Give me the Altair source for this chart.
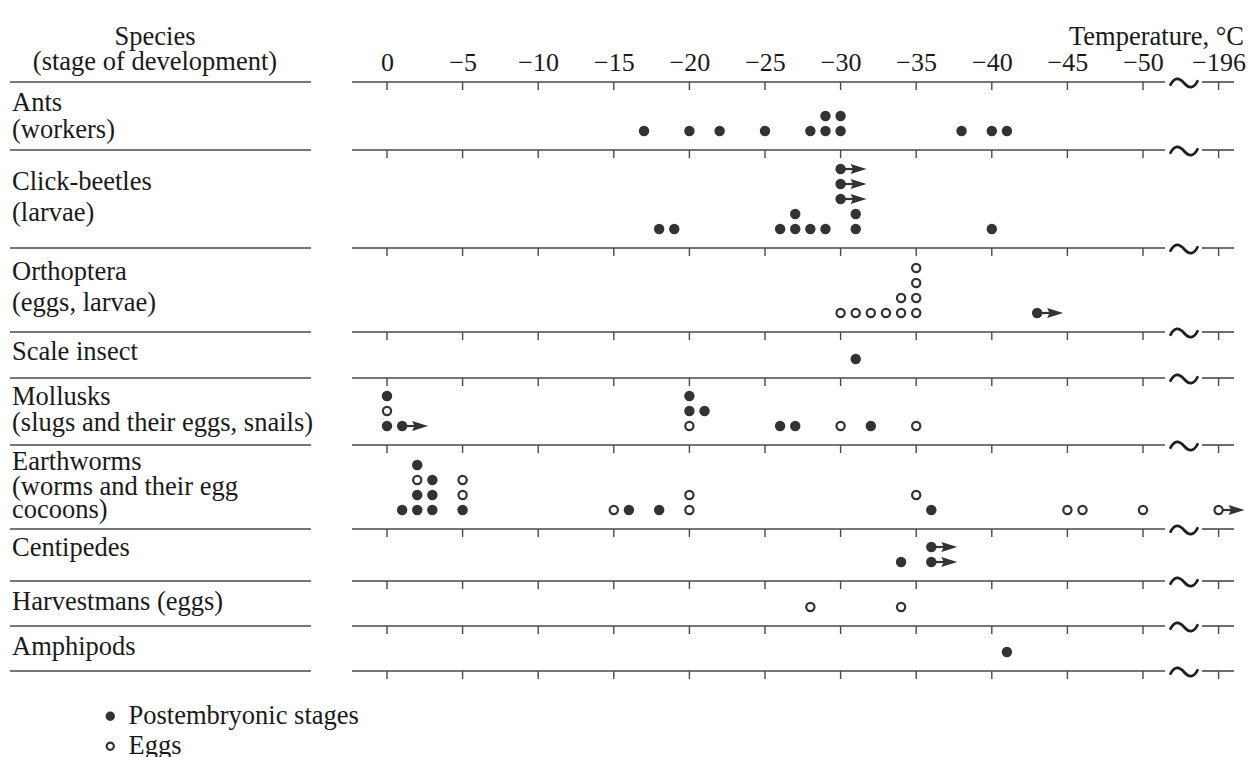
import altair as alt
import pandas as pd

# ---------------- data ----------------
species_lines = [
    ["Ants", "(workers)"],
    ["Click-beetles", "(larvae)"],
    ["Orthoptera", "(eggs, larvae)"],
    ["Scale insect"],
    ["Mollusks", "(slugs and their eggs, snails)"],
    ["Earthworms", "(worms and their egg", "cocoons)"],
    ["Centipedes"],
    ["Harvestmans (eggs)"],
    ["Amphipods"],
]

# each record: (temperature °C, stack level, stage)  P = postembryonic, E = eggs
ants = [(-17, 0, "P"), (-20, 0, "P"), (-22, 0, "P"), (-25, 0, "P"), (-28, 0, "P"),
        (-29, 0, "P"), (-30, 0, "P"), (-38, 0, "P"), (-40, 0, "P"), (-41, 0, "P"),
        (-29, 1, "P"), (-30, 1, "P")]
click_beetles = [(-18, 0, "P"), (-19, 0, "P"), (-26, 0, "P"), (-27, 0, "P"), (-28, 0, "P"),
                 (-29, 0, "P"), (-31, 0, "P"), (-40, 0, "P"), (-27, 1, "P"), (-31, 1, "P"),
                 (-30, 2, "P"), (-30, 3, "P"), (-30, 4, "P")]
orthoptera = [(-30, 0, "E"), (-31, 0, "E"), (-32, 0, "E"), (-33, 0, "E"), (-34, 0, "E"),
              (-35, 0, "E"), (-34, 1, "E"), (-35, 1, "E"), (-35, 2, "E"), (-35, 3, "E"),
              (-43, 0, "P")]
scale_insect = [(-31, 0, "P")]
mollusks = [(0, 0, "P"), (0, 1, "E"), (0, 2, "P"), (-1, 0, "P"), (-20, 0, "E"),
            (-20, 1, "P"), (-20, 2, "P"), (-21, 1, "P"), (-26, 0, "P"), (-27, 0, "P"),
            (-30, 0, "E"), (-32, 0, "P"), (-35, 0, "E")]
earthworms = [(-1, 0, "P"), (-2, 0, "P"), (-2, 1, "P"), (-2, 2, "E"), (-2, 3, "P"),
              (-3, 0, "P"), (-3, 1, "P"), (-3, 2, "P"), (-5, 0, "P"), (-5, 1, "E"),
              (-5, 2, "E"), (-15, 0, "E"), (-16, 0, "P"), (-18, 0, "P"), (-20, 0, "E"),
              (-20, 1, "E"), (-35, 1, "E"), (-36, 0, "P"), (-45, 0, "E"), (-46, 0, "E"),
              (-50, 0, "E"), (-196, 0, "E")]
centipedes = [(-34, 0, "P"), (-36, 0, "P"), (-36, 1, "P")]
harvestmans = [(-28, 0, "E"), (-34, 0, "E")]
amphipods = [(-41, 0, "P")]
row_points = [ants, click_beetles, orthoptera, scale_insect, mollusks,
              earthworms, centipedes, harvestmans, amphipods]

# values that lie beyond the measured limit (row index, temperature, level)
arrows = [(1, -30, 2), (1, -30, 3), (1, -30, 4), (2, -43, 0), (4, -1, 0),
          (5, -196, 0), (6, -36, 0), (6, -36, 1)]

tick_temps = [0, -5, -10, -15, -20, -25, -30, -35, -40, -45, -50, -196]
stage_names = {"P": "Postembryonic stages", "E": "Eggs"}

# ---------------- layout ----------------
PX_PER_DEG = 15.12
ZERO_PX = 387          # page x of 0 °C
LEFT_PX, TOP_PX = 10, 82
W, H = 1236, 589
BREAK_POS = 55         # -196 is drawn after the axis break
row_heights = [68, 98, 84, 46, 67, 84, 52, 45, 45]
label_offsets = [[21, 48], [32, 63], [24, 55], [20], [19, 45], [17, 42, 65], [19], [21], [21]]
BOTTOM_GAP, LEVEL_STEP = 19, 15
FONT = "Liberation Serif"
FS = 26
FS_TXT = 26.5
INK = "#333333"
LINE = "#4a4a4a"
TXT = "#1a1a1a"


def pos_px(px):
    return (px - ZERO_PX) / PX_PER_DEG


def pos_t(t):
    return BREAK_POS if t < -100 else -t


def yy(py):
    return py - TOP_PX


bounds = [0]
for h in row_heights:
    bounds.append(bounds[-1] + h)


def dot_y(row, level):
    return bounds[row + 1] - BOTTOM_GAP - LEVEL_STEP * level


# ---------------- frames ----------------
pts = pd.DataFrame([
    {"pos": pos_t(t), "y": dot_y(r, lv), "stage": stage_names[s], "temp": t}
    for r, recs in enumerate(row_points) for (t, lv, s) in recs
])
arr = pd.DataFrame([{"pos": pos_t(t), "y": dot_y(r, lv)} for (r, t, lv) in arrows])

tick_pos = [pos_t(t) for t in tick_temps]
tick_lab = ["0" if t == 0 else "\u2212" + str(-t) for t in tick_temps]
label_expr = " : ".join(
    [f"datum.value == {p} ? '{l}'" for p, l in zip(tick_pos, tick_lab)]) + " : ''"

left_lines = pd.DataFrame({"pos": pos_px(10), "pos2": pos_px(311), "y": bounds})
right_lines = pd.DataFrame(
    [{"pos": pos_px(352), "pos2": pos_px(1165), "y": b} for b in bounds]
    + [{"pos": pos_px(1202), "pos2": pos_px(1234), "y": b} for b in bounds])
ticks = pd.DataFrame([{"pos": p, "y": b} for b in bounds for p in tick_pos])
tildes = pd.DataFrame({"pos": pos_px(1184), "y": bounds})

labels = pd.DataFrame([
    {"pos": pos_px(12), "y": bounds[r] + off, "text": txt}
    for r, (lines, offs) in enumerate(zip(species_lines, label_offsets))
    for txt, off in zip(lines, offs)
])
header_c = pd.DataFrame({"pos": pos_px(155), "y": [yy(37), yy(62)],
                         "text": ["Species", "(stage of development)"]})
header_r = pd.DataFrame({"pos": [pos_px(1244)], "y": [yy(37)], "text": ["Temperature, \u00b0C"]})

# ---------------- encodings ----------------
xscale = alt.Scale(domain=[pos_px(LEFT_PX), pos_px(LEFT_PX + W)], nice=False, zero=False)
xaxis = alt.Axis(orient="top", values=tick_pos, labelExpr=label_expr, domain=False,
                 ticks=False, tickSize=0, grid=False, title=None, labelFont=FONT,
                 labelFontSize=FS, labelColor=TXT, labelPadding=20, labelBaseline="middle",
                 labelFlush=False, labelOverlap=False, labelAngle=0)
X = alt.X("pos:Q", scale=xscale, axis=xaxis)
Y = alt.Y("y:Q", scale=alt.Scale(domain=[0, H], reverse=True, nice=False, zero=False), axis=None)
X2 = alt.X2("pos2:Q")

l_left = alt.Chart(left_lines).mark_rule(color=LINE, strokeWidth=1.6).encode(x=X, x2=X2, y=Y)
l_right = alt.Chart(right_lines).mark_rule(color=LINE, strokeWidth=1.6).encode(x=X, x2=X2, y=Y)
l_ticks = alt.Chart(ticks).mark_rule(color=LINE, strokeWidth=1.4, y2Offset=8).encode(
    x=X, y=Y, y2=alt.Y2("y:Q"))
l_tilde = alt.Chart(tildes).mark_point(
    shape="M-1,0.2C-0.7,-0.45 -0.35,-0.4 0,0C0.35,0.4 0.7,0.45 1,-0.2",
    filled=False, size=780, strokeWidth=2.7, color="#1e1e1e", opacity=1, yOffset=1
).encode(x=X, y=Y)

l_shaft = alt.Chart(arr).mark_rule(color=INK, strokeWidth=2.2, x2Offset=14).encode(
    x=X, x2=alt.X2("pos:Q"), y=Y)
l_head = alt.Chart(arr).mark_point(
    shape="M-1,-0.62L1,0L-1,0.62L-0.7,0Z", filled=True, size=256, color=INK,
    opacity=1, xOffset=18
).encode(x=X, y=Y)

l_pts = alt.Chart(pts).mark_point(
    shape="circle", filled=True, size=68, stroke=INK, strokeWidth=2.2, opacity=1
).encode(
    x=X, y=Y,
    fill=alt.Fill("stage:N",
                  scale=alt.Scale(domain=["Postembryonic stages", "Eggs"],
                                  range=[INK, "#ffffff"]),
                  legend=alt.Legend(orient="none", legendX=87, legendY=621, title=None,
                                    padding=0, labelFont=FONT, labelFontSize=FS_TXT,
                                    labelColor=TXT, labelOffset=5, rowPadding=3,
                                    symbolType="circle", symbolSize=52,
                                    symbolStrokeColor=INK, symbolStrokeWidth=2.2,
                                    labelLimit=400))
)

l_labels = alt.Chart(labels).mark_text(
    align="left", baseline="middle", font=FONT, fontSize=FS_TXT, color=TXT
).encode(x=X, y=Y, text="text:N")
l_head_c = alt.Chart(header_c).mark_text(
    align="center", baseline="middle", font=FONT, fontSize=FS_TXT, color=TXT
).encode(x=X, y=Y, text="text:N")
l_head_r = alt.Chart(header_r).mark_text(
    align="right", baseline="middle", font=FONT, fontSize=FS_TXT, color=TXT
).encode(x=X, y=Y, text="text:N")

chart = alt.layer(
    l_left, l_right, l_ticks, l_tilde, l_shaft, l_head, l_pts, l_labels, l_head_c, l_head_r
).properties(
    width=W, height=H, autosize=alt.AutoSizeParams(type="none"),
    padding={"left": 2, "top": 74, "right": 0, "bottom": 86}, background="white"
).configure_view(stroke=None)

chart.save("out.html", embed_options={"renderer": "svg", "actions": False})
